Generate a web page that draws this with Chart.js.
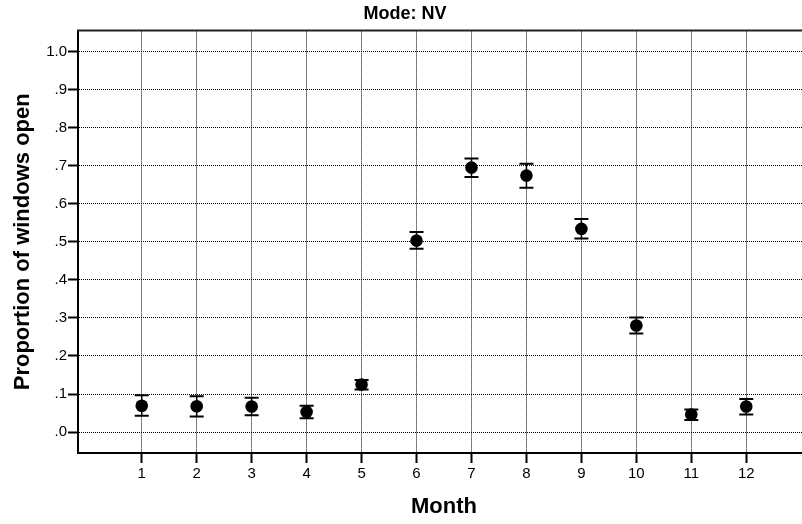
<!DOCTYPE html>
<html>
<head>
<meta charset="utf-8">
<script src="https://cdn.jsdelivr.net/npm/chart.js@4/dist/chart.umd.min.js"></script>
<style>
  html, body { margin: 0; padding: 0; background: #fff; width: 802px; height: 524px; overflow: hidden; }
  #wrap { width: 802px; height: 524px; overflow: hidden; position: relative; }
  #chart { display: block; position: absolute; left: 0; top: 0; }
</style>
</head>
<body>
<div id="wrap"><canvas id="chart" width="810" height="524"></canvas></div>
<script>
// Monthly proportion of open windows (mean with error interval), NV mode
const months = [1, 2, 3, 4, 5, 6, 7, 8, 9, 10, 11, 12];
const meanOpen = [0.069, 0.068, 0.067, 0.053, 0.125, 0.503, 0.695, 0.674, 0.534, 0.280, 0.046, 0.067];
const upperOpen = [0.097, 0.094, 0.090, 0.069, 0.137, 0.526, 0.719, 0.705, 0.560, 0.301, 0.059, 0.087];
const lowerOpen = [0.043, 0.041, 0.044, 0.036, 0.112, 0.482, 0.670, 0.642, 0.509, 0.259, 0.032, 0.046];
const yTickValues = [0, 0.1, 0.2, 0.3, 0.4, 0.5, 0.6, 0.7, 0.8, 0.9, 1.0];
const yTickLabels = ['.0', '.1', '.2', '.3', '.4', '.5', '.6', '.7', '.8', '.9', '1.0'];

const FONT = '"Liberation Sans", Arial, sans-serif';
Chart.defaults.color = '#000';
Chart.defaults.font.family = FONT;

// Vertical interval with caps behind every point
const errorBars = {
  id: 'errorBars',
  beforeDatasetsDraw(chart) {
    const { ctx, scales: { x, y } } = chart;
    ctx.save();
    ctx.strokeStyle = '#000';
    ctx.lineCap = 'butt';
    months.forEach((m, i) => {
      const px = x.getPixelForValue(m);
      const top = y.getPixelForValue(upperOpen[i]);
      const bot = y.getPixelForValue(lowerOpen[i]);
      ctx.lineWidth = 1.5;
      ctx.beginPath();
      ctx.moveTo(px, top);
      ctx.lineTo(px, bot);
      ctx.stroke();
      ctx.lineWidth = 2;
      ctx.beginPath();
      ctx.moveTo(px - 7, top);
      ctx.lineTo(px + 7, top);
      ctx.moveTo(px - 7, bot);
      ctx.lineTo(px + 7, bot);
      ctx.stroke();
    });
    ctx.restore();
  }
};

// Solid line along the top of the plot frame
const topFrame = {
  id: 'topFrame',
  afterDraw(chart) {
    const { ctx, chartArea } = chart;
    ctx.save();
    ctx.strokeStyle = '#222';
    ctx.lineWidth = 2;
    ctx.beginPath();
    ctx.moveTo(chartArea.left - 1, chartArea.top);
    ctx.lineTo(chartArea.right, chartArea.top);
    ctx.stroke();
    ctx.restore();
  }
};

new Chart(document.getElementById('chart'), {
  type: 'scatter',
  data: {
    datasets: [{
      data: months.map((m, i) => ({ x: m, y: meanOpen[i] })),
      backgroundColor: '#000',
      borderColor: '#000',
      pointRadius: 6.3,
      pointHoverRadius: 6.3,
      borderWidth: 0
    }]
  },
  options: {
    responsive: false,
    animation: false,
    layout: { padding: 0, autoPadding: false },
    plugins: {
      legend: { display: false },
      tooltip: { enabled: false },
      title: {
        display: true,
        text: 'Mode: NV',
        color: '#000',
        font: { family: FONT, size: 18, weight: 'bold', lineHeight: 1.2 },
        padding: { top: 3, bottom: 6 }
      }
    },
    scales: {
      x: {
        type: 'linear',
        min: -0.16,
        max: 13.16,
        afterBuildTicks(s) { s.ticks = months.map(v => ({ value: v })); },
        afterFit(s) { s.height = 71; },
        ticks: {
          font: { family: FONT, size: 15 },
          color: '#000',
          padding: 2,
          maxRotation: 0,
          autoSkip: false,
          callback: v => String(v)
        },
        grid: {
          color: '#000',
          lineWidth: 1,
          tickLength: 10,
          tickWidth: 2,
          tickColor: '#000'
        },
        border: { display: true, color: '#000', width: 2, dash: [1, 1] },
        title: {
          display: true,
          text: 'Month',
          color: '#000',
          font: { family: FONT, size: 22, weight: 'bold', lineHeight: 1 },
          padding: { top: 0, bottom: 6 }
        }
      },
      y: {
        type: 'linear',
        min: -0.055,
        max: 1.055,
        afterBuildTicks(s) { s.ticks = yTickValues.map(v => ({ value: v })); },
        afterFit(s) { s.width = 78; },
        ticks: {
          font: { family: FONT, size: 15 },
          color: '#000',
          padding: 1,
          autoSkip: false,
          callback: (v) => {
            const i = yTickValues.findIndex(t => Math.abs(t - v) < 1e-9);
            return i >= 0 ? yTickLabels[i] : '';
          }
        },
        grid: {
          color: '#000',
          lineWidth: 1,
          tickLength: 10,
          tickWidth: 2,
          tickColor: '#000'
        },
        border: { display: true, color: '#000', width: 2, dash: [1, 1] },
        title: {
          display: true,
          text: 'Proportion of windows open',
          color: '#000',
          font: { family: FONT, size: 22, weight: 'bold', lineHeight: 1 },
          padding: { top: 12, bottom: 0 }
        }
      }
    }
  },
  plugins: [errorBars, topFrame]
});
</script>
</body>
</html>
